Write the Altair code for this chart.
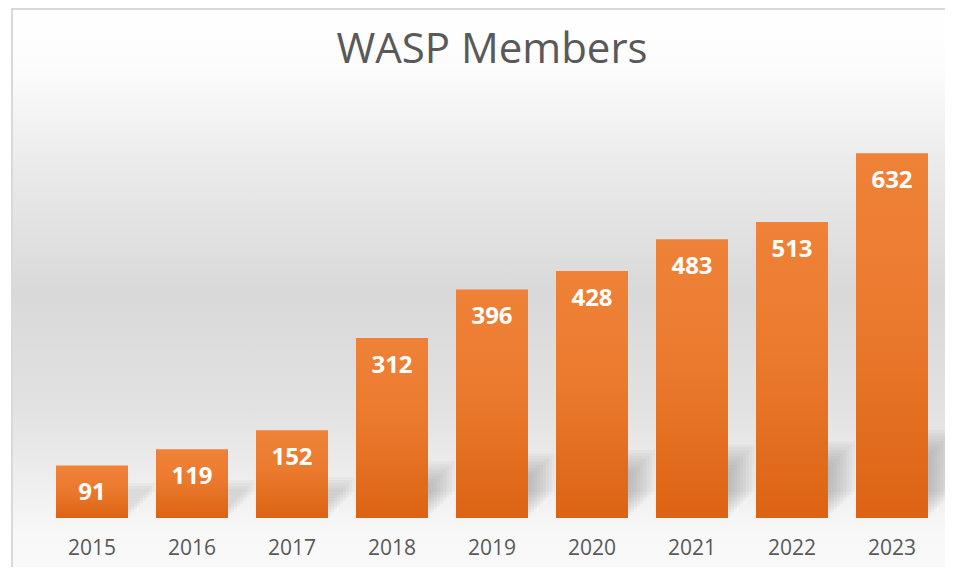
import altair as alt
import pandas as pd

years = ["2015", "2016", "2017", "2018", "2019", "2020", "2021", "2022", "2023"]
members = [91, 119, 152, 312, 396, 428, 483, 513, 632]
title_text = "WASP Members"

df = pd.DataFrame({"year": years, "members": members})

W, H = 900, 404
YSCALE = alt.Scale(domain=[0, 700])
XSCALE = alt.Scale(paddingInner=0.28, paddingOuter=0.14)
XAXIS = alt.Axis(labelAngle=0, labelFont="Open Sans", labelFontSize=21,
                 labelColor="#595959", labelPadding=19, domain=False,
                 ticks=False, grid=False, title=None, zindex=1)

bg_grad = alt.Gradient(
    gradient="linear", x1=0, x2=0, y1=0, y2=1,
    stops=[
        alt.GradientStop(offset=0.0, color="#ffffff"),
        alt.GradientStop(offset=0.10, color="#fcfcfc"),
        alt.GradientStop(offset=0.26, color="#ebebeb"),
        alt.GradientStop(offset=0.48, color="#d9d9d9"),
        alt.GradientStop(offset=0.68, color="#e2e2e2"),
        alt.GradientStop(offset=0.82, color="#f0f0f0"),
        alt.GradientStop(offset=0.89, color="#f8f8f8"),
        alt.GradientStop(offset=1.0, color="#fafafa"),
    ],
)

bar_grad = alt.Gradient(
    gradient="linear", x1=0, x2=0, y1=0, y2=1,
    stops=[
        alt.GradientStop(offset=0.0, color="#ef8238"),
        alt.GradientStop(offset=0.45, color="#eb7a2e"),
        alt.GradientStop(offset=1.0, color="#dc6313"),
    ],
)

base = alt.Chart(df)

background = alt.Chart(pd.DataFrame({"k": [0]})).mark_rect(
    fill=bg_grad, stroke="#d9d9d9", strokeWidth=2
).encode(
    x=alt.value(-30), x2=alt.value(W + 30),
    y=alt.value(-105), y2=alt.value(H + 80),
)

title = alt.Chart(pd.DataFrame({"t": [title_text]})).mark_text(
    font="Open Sans", fontSize=42, color="#595959",
    align="center", baseline="alphabetic"
).encode(
    text="t:N", x=alt.value(W / 2), y=alt.value(-51)
)


def xe():
    return alt.X("year:N", scale=XSCALE, axis=XAXIS)


def shadow(i):
    return base.transform_calculate(
        s0=f"5 + {i} * 5",
        s1=f"5 + {i} * 5 + datum.members * 0.17",
    ).mark_bar(color="#8a8a8a", opacity=0.07, xOffset=3 + 3 * i).encode(
        x=xe(),
        y=alt.Y("s0:Q", scale=YSCALE, axis=None),
        y2=alt.Y2("s1"),
    )


shadows = [shadow(i) for i in range(9)]

bars = base.mark_bar(color=bar_grad).encode(
    x=xe(), y=alt.Y("members:Q", scale=YSCALE, axis=None))

labels = base.mark_text(
    font="Open Sans", fontSize=24, fontWeight="bold", color="white",
    baseline="middle", dy=28
).encode(x=xe(), y=alt.Y("members:Q", scale=YSCALE, axis=None), text="members:Q")

chart = alt.layer(background, *shadows, bars, labels, title).properties(
    width=W, height=H,
    autosize=alt.AutoSizeParams(type="none"),
    padding={"left": 34, "top": 106, "right": 3, "bottom": 49},
).configure_view(stroke=None).configure(background="white")

chart.save("out.html", embed_options={"renderer": "svg", "actions": False})
